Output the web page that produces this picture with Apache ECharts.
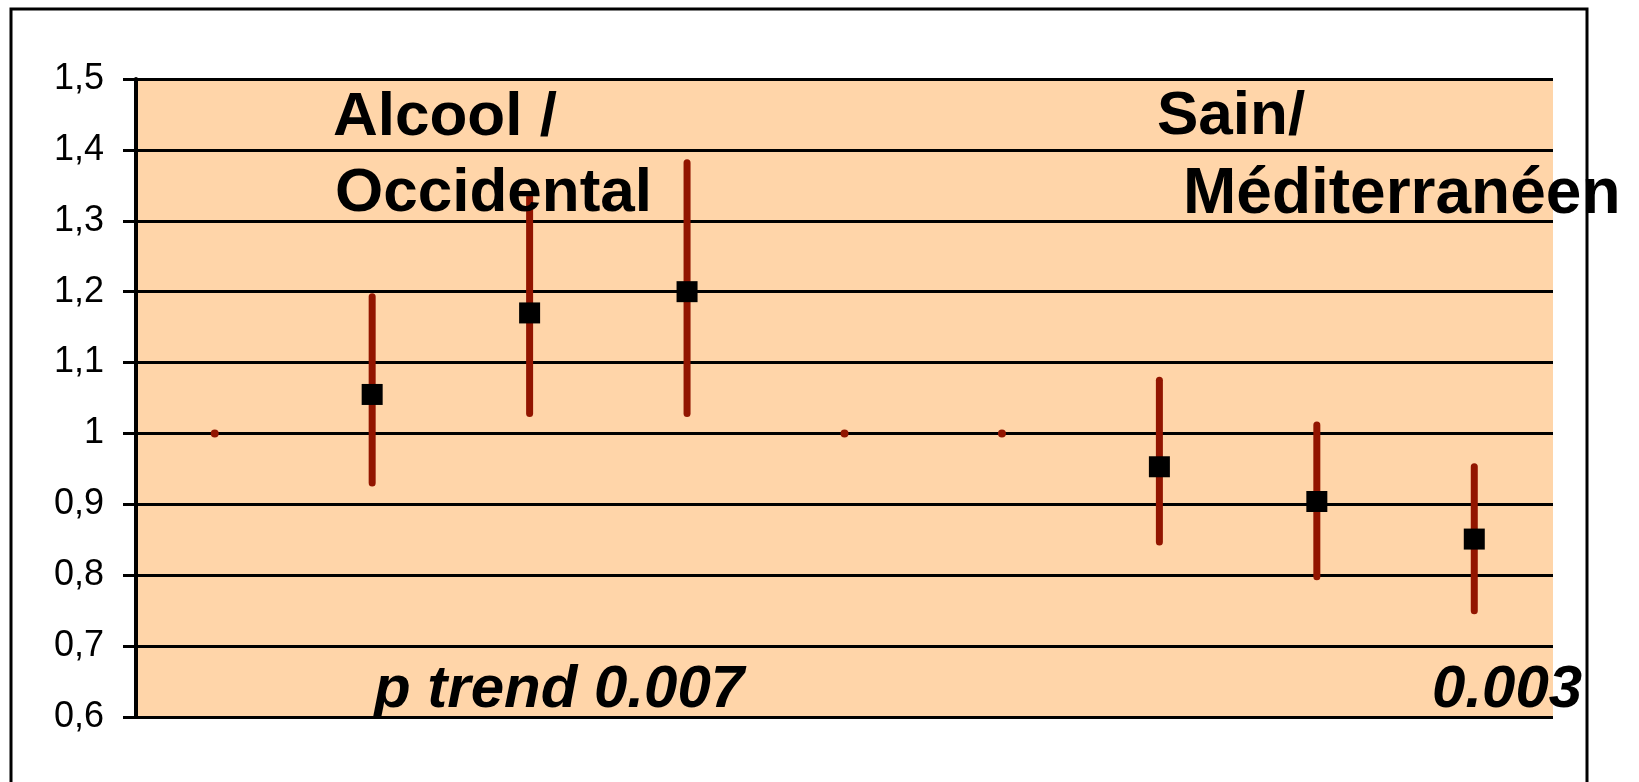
<!DOCTYPE html>
<html>
<head>
<meta charset="utf-8">
<title>Alcool / Occidental — Sain / Méditerranéen</title>
<script src="https://cdn.jsdelivr.net/npm/echarts@6/dist/echarts.min.js"></script>
<style>
  html, body { margin: 0; padding: 0; background: #ffffff; }
  #chart { width: 1639px; height: 782px; }
</style>
</head>
<body>
<div id="chart"></div>
<script>
// Quartile positions: four for the "Alcool / Occidental" pattern, a spacer, four for "Sain / Méditerranéen"
const categories = ['AO Q1', 'AO Q2', 'AO Q3', 'AO Q4', 'sep', 'SM Q1', 'SM Q2', 'SM Q3', 'SM Q4'];
// Point estimates (null = reference level, no square drawn)
const estimates = [null, 1.055, 1.17, 1.20, null, null, 0.953, 0.904, 0.851];
// Confidence interval bounds
const lowerCI = [1, 0.93, 1.028, 1.028, 1, 1, 0.847, 0.798, 0.75];
const upperCI = [1, 1.193, 1.333, 1.382, 1, 1, 1.075, 1.012, 0.953];
// Y-axis settings
const yMin = 0.6, yMax = 1.5, yStep = 0.1;

const chart = echarts.init(document.getElementById('chart'), null, { renderer: 'canvas' });

const barColor = '#921500';
const ciData = categories.map((c, i) => [i, lowerCI[i], upperCI[i]]);
const pointData = categories.map((c, i) => [i, estimates[i]]);

const labelFont = 'bold 62px "Liberation Sans", Arial, sans-serif';
const pFont = 'italic bold 60px "Liberation Sans", Arial, sans-serif';

chart.setOption({
  animation: false,
  backgroundColor: '#ffffff',
  grid: {
    left: 136, right: 86, top: 79, bottom: 65,
    show: true,
    backgroundColor: '#FFD5A9',
    borderWidth: 0
  },
  xAxis: {
    type: 'category',
    data: categories,
    boundaryGap: true,
    axisLine: { show: false },
    axisTick: { show: false },
    axisLabel: { show: false },
    splitLine: { show: false }
  },
  yAxis: {
    type: 'value',
    min: yMin, max: yMax, interval: yStep,
    axisLine: { show: true, lineStyle: { color: '#000', width: 4 } },
    axisTick: { show: true, inside: false, length: 13, lineStyle: { color: '#000', width: 3 } },
    axisLabel: {
      margin: 32,
      color: '#000',
      fontFamily: '"Liberation Sans Narrow", "Liberation Sans", Arial, sans-serif',
      fontSize: 36,
      formatter: v => String(Math.round(v * 10) / 10).replace('.', ',')
    },
    splitLine: { show: true, lineStyle: { color: '#000', width: 3 } }
  },
  series: [
    {
      type: 'custom',
      name: 'IC 95%',
      data: ciData,
      z: 3,
      renderItem: function (params, api) {
        const x = api.value(0);
        const lo = api.coord([x, api.value(1)]);
        const hi = api.coord([x, api.value(2)]);
        if (Math.abs(lo[1] - hi[1]) < 1) {
          return { type: 'circle', shape: { cx: lo[0], cy: lo[1], r: 4 }, style: { fill: barColor } };
        }
        return {
          type: 'line',
          shape: { x1: lo[0], y1: lo[1], x2: hi[0], y2: hi[1] },
          style: { stroke: barColor, lineWidth: 7, lineCap: 'round' }
        };
      }
    },
    {
      type: 'scatter',
      name: 'RR',
      data: pointData,
      z: 4,
      symbol: 'rect',
      symbolSize: 21,
      itemStyle: { color: '#000', opacity: 1 }
    }
  ],
  graphic: [
    {
      type: 'rect', z: 100, silent: true,
      shape: { x: 11, y: 9, width: 1576, height: 820 },
      style: { fill: 'none', stroke: '#000', lineWidth: 3 }
    },
    { type: 'text', z: 101, style: { text: 'Alcool /', x: 333, y: 118, font: labelFont, fill: '#000', textVerticalAlign: 'middle' } },
    { type: 'text', z: 101, style: { text: 'Occidental', x: 335, y: 194, font: labelFont, fill: '#000', textVerticalAlign: 'middle' } },
    { type: 'text', z: 101, style: { text: 'Sain/', x: 1157, y: 117, font: labelFont, fill: '#000', textVerticalAlign: 'middle' } },
    { type: 'text', z: 101, style: { text: 'Méditerranéen', x: 1183, y: 195, font: 'bold 64px "Liberation Sans", Arial, sans-serif', fill: '#000', textVerticalAlign: 'middle' } },
    { type: 'text', z: 101, style: { text: 'p trend 0.007', x: 374, y: 690, font: pFont, fill: '#000', textVerticalAlign: 'middle' } },
    { type: 'text', z: 101, style: { text: '0.003', x: 1432, y: 690, font: pFont, fill: '#000', textVerticalAlign: 'middle' } }
  ]
});
</script>
</body>
</html>
